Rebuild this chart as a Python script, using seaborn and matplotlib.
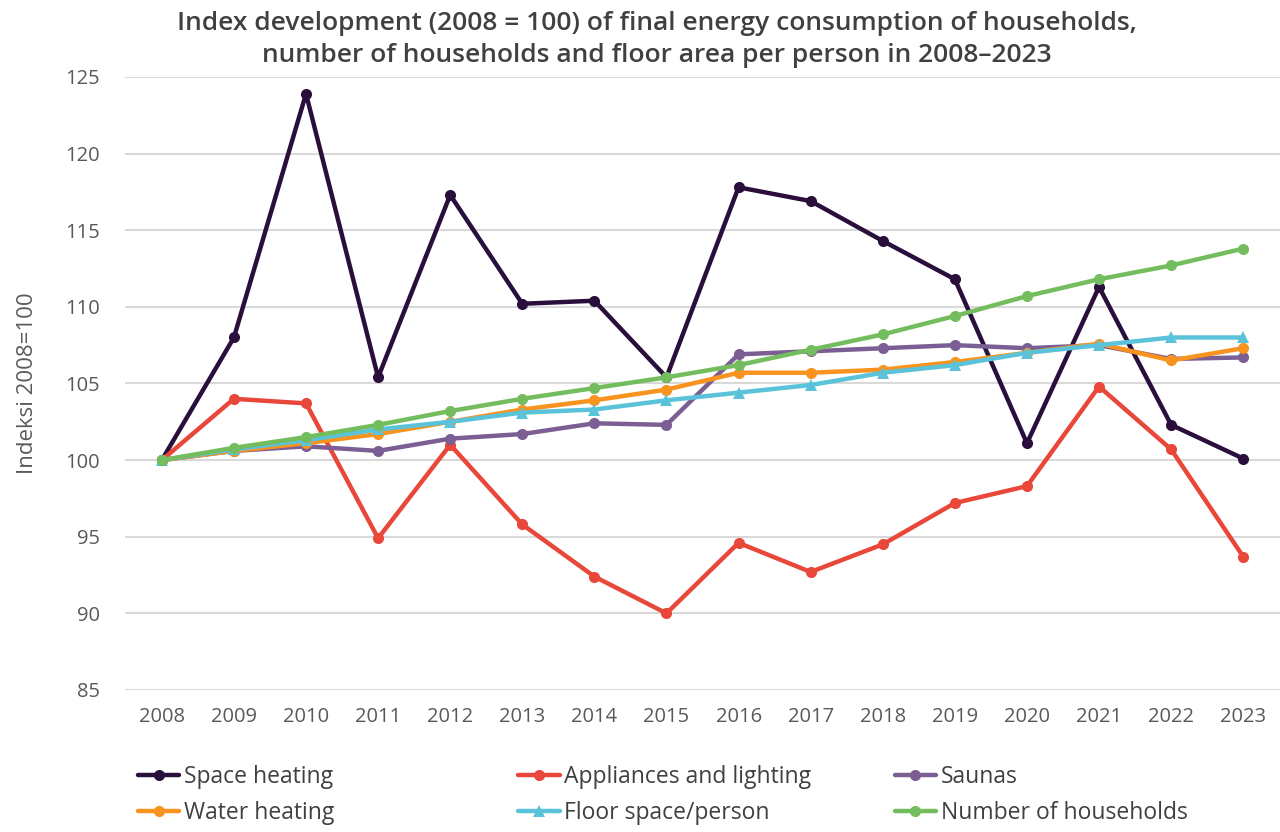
import numpy as np
import pandas as pd
import seaborn as sns
import matplotlib
matplotlib.use("Agg")
import matplotlib.pyplot as plt
from matplotlib.lines import Line2D

years = list(range(2008, 2024))
space_heating = [100, 108.0, 123.9, 105.4, 117.3, 110.2, 110.4, 105.4, 117.8, 116.9, 114.3, 111.8, 101.1, 111.3, 102.3, 100.1]
appliances = [100, 104.0, 103.7, 94.9, 101.0, 95.8, 92.4, 90.0, 94.6, 92.7, 94.5, 97.2, 98.3, 104.8, 100.7, 93.7]
saunas = [100, 100.6, 100.9, 100.6, 101.4, 101.7, 102.4, 102.3, 106.9, 107.1, 107.3, 107.5, 107.3, 107.5, 106.6, 106.7]
water_heating = [100, 100.6, 101.1, 101.7, 102.5, 103.3, 103.9, 104.6, 105.7, 105.7, 105.9, 106.4, 107.0, 107.6, 106.5, 107.3]
floor_space = [100, 100.7, 101.3, 102.0, 102.5, 103.1, 103.3, 103.9, 104.4, 104.9, 105.7, 106.2, 107.0, 107.5, 108.0, 108.0]
households = [100, 100.8, 101.5, 102.3, 103.2, 104.0, 104.7, 105.4, 106.2, 107.2, 108.2, 109.4, 110.7, 111.8, 112.7, 113.8]

series_names = ["Space heating", "Appliances and lighting", "Saunas",
                "Water heating", "Floor space/person", "Number of households"]
series_values = [space_heating, appliances, saunas, water_heating, floor_space, households]
colors = ["#2a0f3d", "#e8473a", "#7b5e93", "#f7931e", "#5bc3d9", "#74bd5e"]
markers = ["o", "o", "o", "o", "^", "o"]
yticks = [85, 90, 95, 100, 105, 110, 115, 120, 125]

rows = []
for name, vals in zip(series_names, series_values):
    for yr, v in zip(years, vals):
        rows.append({"Year": yr, "Value": v, "Series": name})
df = pd.DataFrame(rows)

sns.set_theme(style="white")
plt.rcParams["font.family"] = ["Open Sans", "DejaVu Sans"]

fig = plt.figure(figsize=(12.8, 8.32), dpi=100)
ax = fig.add_axes([0.0977, 0.1707, 0.9023, 0.7368])

palette = dict(zip(series_names, colors))
marker_map = dict(zip(series_names, markers))
sns.lineplot(data=df, x="Year", y="Value", hue="Series", style="Series",
             palette=palette, markers=marker_map, dashes=False,
             hue_order=series_names, style_order=series_names,
             linewidth=3.2, markersize=8, markeredgewidth=0,
             legend=False, ax=ax)

ax.set_xlim(2007.49, 2023.51)
ax.set_ylim(85, 125)
ax.set_yticks(yticks)
ax.set_xticks(years)
ax.set_xticklabels([str(y) for y in years])
ax.grid(axis="y", color="#d9d9d9", linewidth=1.5)
ax.grid(axis="x", visible=False)
ax.set_axisbelow(True)
for s in ax.spines.values():
    s.set_visible(False)
ax.tick_params(axis="both", length=0, labelsize=14.5, labelcolor="#595959")
ax.tick_params(axis="x", pad=12)
ax.tick_params(axis="y", pad=18)
ax.set_xlabel("")
ax.set_ylabel("Indeksi 2008=100", fontsize=16, color="#595959", labelpad=20)

fig.text(0.513, 0.972, "Index development (2008 = 100) of final energy consumption of households,",
         ha="center", va="center", fontsize=19, color="#404040", fontweight="semibold")
fig.text(0.513, 0.933, "number of households and floor area per person in 2008\u20132023",
         ha="center", va="center", fontsize=19, color="#404040", fontweight="semibold")

def handle(i):
    return Line2D([0], [0], color=colors[i], linewidth=3.2, marker=markers[i],
                  markersize=8, markeredgewidth=0)

col_x = [0.108, 0.405, 0.699]
pairs = [(0, 3), (1, 4), (2, 5)]
for cx, (a, b) in zip(col_x, pairs):
    fig.legend([handle(a), handle(b)], [series_names[a], series_names[b]],
               loc="upper left", bbox_to_anchor=(cx, 0.080), frameon=False,
               fontsize=16.5, labelcolor="#404040", handlelength=1.8,
               handletextpad=0.2, labelspacing=0.5, borderpad=0, borderaxespad=0)

fig.savefig("out.png", dpi=100)
